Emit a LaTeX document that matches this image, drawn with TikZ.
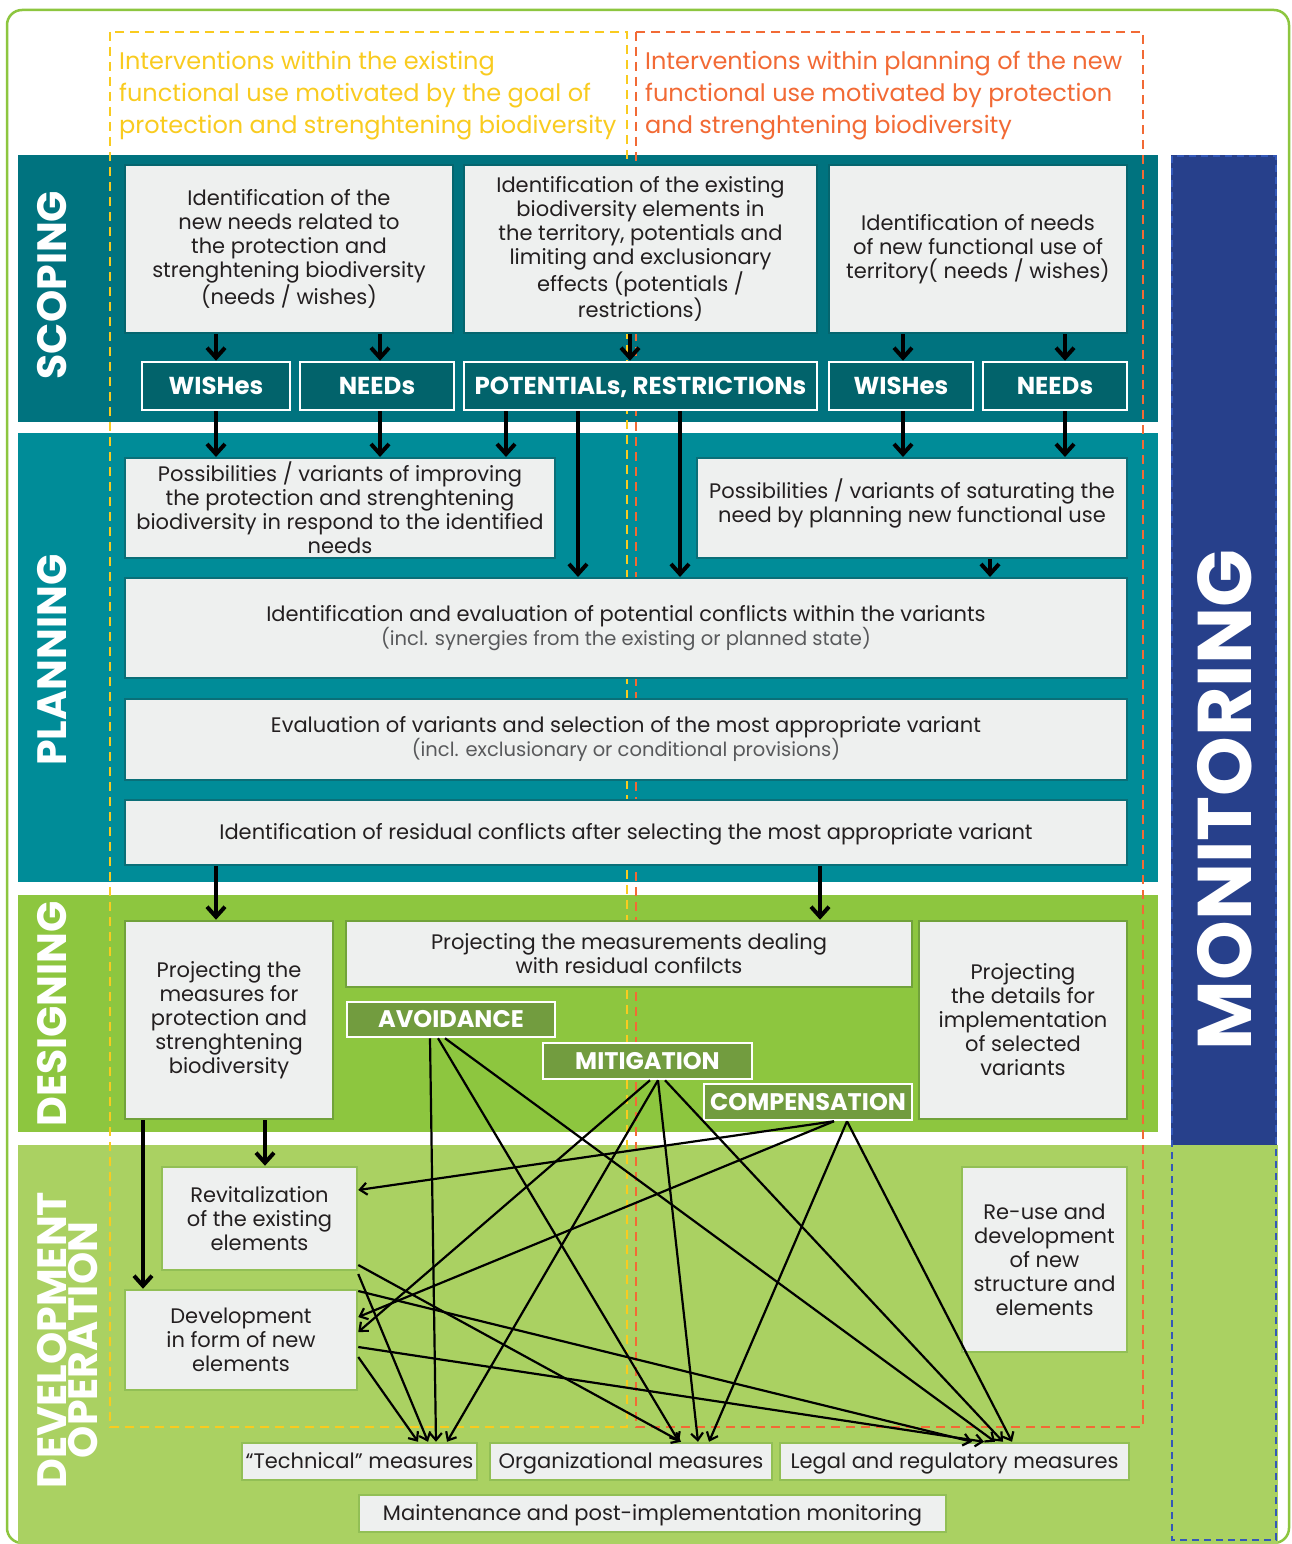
\documentclass[tikz,border=0pt]{standalone}
\usepackage{fontspec}
\setmainfont{Poppins}
\usetikzlibrary{arrows.meta}
\definecolor{scopeband}{HTML}{00737F}
\definecolor{planband}{HTML}{008C98}
\definecolor{desband}{HTML}{8DC63F}
\definecolor{devband}{HTML}{AAD162}
\definecolor{monblue}{HTML}{27408B}
\definecolor{boxgray}{HTML}{EEF0EF}
\definecolor{scopeedge}{HTML}{05656E}
\definecolor{planedge}{HTML}{0A6F78}
\definecolor{desedge}{HTML}{71A23A}
\definecolor{devedge}{HTML}{92BF55}
\definecolor{tagteal}{HTML}{02636B}
\definecolor{tagolive}{HTML}{729C3F}
\definecolor{yel}{HTML}{F9CB1F}
\definecolor{ora}{HTML}{F26A35}
\definecolor{dashblue}{HTML}{3358B8}
\definecolor{textdark}{HTML}{231F20}
\definecolor{subgray}{HTML}{58595B}
\definecolor{framegreen}{HTML}{8DC63F}
\newcommand{\subtxt}{\color{subgray}\fontsize{19.5}{24}\selectfont}
\begin{document}
\begin{tikzpicture}[x=1pt,y=-1pt,
  gbox/.style={fill=boxgray, inner sep=0pt, align=center, text=textdark,
    font=\fontsize{21}{24}\selectfont},
  scbox/.style={gbox, draw=scopeedge, line width=2pt},
  plbox/.style={gbox, draw=planedge, line width=2pt},
  dsbox/.style={gbox, draw=desedge, line width=2.5pt},
  dvbox/.style={gbox, draw=devedge, line width=2.5pt},
  oneline/.style={text height=16pt, text depth=1.5pt},
  tagS/.style={fill=tagteal, draw=white, line width=2.5pt, text=white, inner sep=0pt,
    font=\bfseries\fontsize{24.5}{26}\selectfont, text height=19pt, text depth=2pt},
  tagD/.style={fill=tagolive, draw=white, line width=2.5pt, text=white, inner sep=0pt,
    font=\bfseries\fontsize{24}{26}\selectfont, text height=18.5pt, text depth=2pt},
  phase/.style={text=white, rotate=90, align=center, inner sep=0pt,
    font=\bfseries\fontsize{41}{31}\selectfont},
  head/.style={align=left, inner sep=0pt, anchor=west, font=\fontsize{24}{32}\selectfont},
  bigarrow/.style={line width=4pt, -{Straight Barb[length=10pt,width=18pt]}},
  thinarrow/.style={line width=2.2pt, -{Straight Barb[length=7pt,width=12pt]}},
  ydash/.style={draw=yel, line width=2.5pt, dash pattern=on 9pt off 6pt},
  odash/.style={draw=ora, line width=2.5pt, dash pattern=on 9pt off 6pt},
  bdash/.style={draw=dashblue, line width=2pt, dash pattern=on 7pt off 5pt},
]
\useasboundingbox (0,0) rectangle (1291,1544);
\fill[white] (0,0) rectangle (1291,1544);
% outer frame
\draw[framegreen, line width=2.5pt, rounded corners=15pt] (7,10) rectangle (1289,1543);
% bands
\fill[scopeband] (18,155) rectangle (1158,422);
\fill[planband] (18,433) rectangle (1158,882);
\fill[desband] (18,895) rectangle (1158,1132);
\fill[monblue] (1171,155) rectangle (1277,1145);
\fill[devband] (18,1145) rectangle (1278,1544);
\draw[bdash] (1172,156) rectangle (1276,1540);
% dashed intervention frames
\draw[ydash] (110,32) rectangle (627,1427);
\draw[odash] (636,32) rectangle (1143,1427);
% headers
\node[head, text=yel] (hyel) at (119,96) {Interventions within the existing\\functional use motivated by the goal of\\protection and strenghtening biodiversity};
\node[head, text=ora] (hora) at (645,96) {Interventions within planning of the new\\functional use motivated by protection\\and strenghtening biodiversity};
% phase labels
\node[phase] (lscope) at (52,285) {SCOPING};
\node[phase] (lplan) at (52,660) {PLANNING};
\node[phase] (ldes) at (52,1014) {DESIGNING};
\node[phase] (ldev) at (68,1340) {DEVELOPMENT\\OPERATION};
\node[phase, font=\bfseries\fontsize{76}{80}\selectfont] (lmon) at (1225,800) {MONITORING};
% scoping
\node[scbox, minimum width=328, minimum height=168] (b1) at (289,249) {Identification of the\\new needs related to\\the protection and\\strenghtening biodiversity\\(needs / wishes)};
\node[scbox, minimum width=353, minimum height=168] (b2) at (640.5,249) {Identification of the existing\\biodiversity elements in\\the territory, potentials and\\limiting and exclusionary\\effects (potentials /\\restrictions)};
\node[scbox, minimum width=298, minimum height=168] (b3) at (978,249) {Identification of needs\\of new functional use of\\territory( needs / wishes)};
\node[tagS, minimum width=148, minimum height=48] (wish1) at (216,386) {WISHes};
\node[tagS, minimum width=154, minimum height=48] (need1) at (377,386) {NEEDs};
\node[tagS, minimum width=353, minimum height=48] (pot) at (640.5,386) {POTENTIALs, RESTRICTIONs};
\node[tagS, minimum width=144, minimum height=48] (wish2) at (901,386) {WISHes};
\node[tagS, minimum width=144, minimum height=48] (need2) at (1055,386) {NEEDs};
% planning
\node[plbox, minimum width=430, minimum height=100] (p1) at (340,508) {Possibilities / variants of improving\\the protection and strenghtening\\biodiversity in respond to the identified\\needs};
\node[plbox, minimum width=430, minimum height=100] (p2) at (912,508) {Possibilities / variants of saturating the\\need by planning new functional use\\[-10pt]\mbox{}};
\node[plbox, minimum width=1002, minimum height=100] (conf) at (626,628) {Identification and evaluation of potential conflicts within the variants\\{\subtxt (incl. synergies from the existing or planned state)}};
\node[plbox, minimum width=1002, minimum height=81] (eval) at (626,739.5) {Evaluation of variants and selection of the most appropriate variant\\{\subtxt (incl. exclusionary or conditional provisions)}};
\node[plbox, oneline, minimum width=1002, minimum height=65] (resid) at (626,832.5) {Identification of residual conflicts after selecting the most appropriate variant};
% designing
\node[dsbox, minimum width=208, minimum height=198] (d1) at (229,1020) {Projecting the\\measures for\\protection and\\strenghtening\\biodiversity};
\node[dsbox, minimum width=566, minimum height=66] (d2) at (629,954) {Projecting the measurements dealing\\with residual confilcts};
\node[dsbox, minimum width=208, minimum height=198] (d3) at (1023,1020) {Projecting\\the details for\\implementation\\of selected\\variants};
\node[tagD, minimum width=208, minimum height=35] (avoid) at (451,1019.5) {AVOIDANCE};
\node[tagD, minimum width=209, minimum height=36] (mitig) at (647.5,1061) {MITIGATION};
\node[tagD, minimum width=208, minimum height=36] (comp) at (808,1102) {COMPENSATION};
% development
\node[dvbox, minimum width=195, minimum height=103] (rev) at (259.5,1218.5) {Revitalization\\of the existing\\elements};
\node[dvbox, minimum width=232, minimum height=100] (devn) at (241,1340) {Development\\in form of new\\elements};
\node[dvbox, minimum width=165, minimum height=185] (reuse) at (1044.5,1259.5) {Re-use and\\development\\of new\\structure and\\elements};
\node[dvbox, oneline, minimum width=235, minimum height=37] (tech) at (359.5,1461.5) {“Technical” measures};
\node[dvbox, oneline, minimum width=282, minimum height=37] (org) at (631,1461.5) {Organizational measures};
\node[dvbox, oneline, minimum width=349, minimum height=37] (legal) at (954.5,1461.5) {Legal and regulatory measures};
\node[dvbox, oneline, minimum width=587, minimum height=37] (maint) at (652.5,1513.5) {Maintenance and post-implementation monitoring};
% big arrows scoping
\draw[bigarrow] (216,0 |- b1.south) -- (216,0 |- wish1.north);
\draw[bigarrow] (380,0 |- b1.south) -- (380,0 |- need1.north);
\draw[bigarrow] (630,0 |- b2.south) -- (630,0 |- pot.north);
\draw[bigarrow] (903,0 |- b3.south) -- (903,0 |- wish2.north);
\draw[bigarrow] (1065,0 |- b3.south) -- (1065,0 |- need2.north);
% scoping -> planning
\draw[bigarrow] (216,0 |- wish1.south) -- (216,0 |- p1.north);
\draw[bigarrow] (380,0 |- need1.south) -- (380,0 |- p1.north);
\draw[bigarrow] (506,0 |- pot.south) -- (506,0 |- p1.north);
\draw[bigarrow] (578,0 |- pot.south) -- (578,0 |- conf.north);
\draw[bigarrow] (680,0 |- pot.south) -- (680,0 |- conf.north);
\draw[bigarrow] (903,0 |- wish2.south) -- (903,0 |- p2.north);
\draw[bigarrow] (1065,0 |- need2.south) -- (1065,0 |- p2.north);
\draw[bigarrow] (990,0 |- p2.south) -- (990,0 |- conf.north);
% planning -> designing
\draw[bigarrow] (216,0 |- resid.south) -- (216,0 |- d1.north);
\draw[bigarrow] (820,0 |- resid.south) -- (820,0 |- d2.north);
% designing -> development
\draw[bigarrow] (143,0 |- d1.south) -- (143,0 |- devn.north);
\draw[bigarrow] (265,0 |- d1.south) -- (265,0 |- rev.north);
% thin arrows
\draw[thinarrow] (430,0 |- avoid.south) -- (436,0 |- tech.north);
\draw[thinarrow] (438,0 |- avoid.south) -- (679,0 |- org.north);
\draw[thinarrow] (445,0 |- avoid.south) -- (995,0 |- legal.north);
\draw[thinarrow] (650,0 |- mitig.south) -- (devn.east |- 0,1332);
\draw[thinarrow] (658,0 |- mitig.south) -- (447,0 |- tech.north);
\draw[thinarrow] (658,0 |- mitig.south) -- (698,0 |- org.north);
\draw[thinarrow] (665,0 |- mitig.south) -- (1003,0 |- legal.north);
\draw[thinarrow] (834,0 |- comp.south) -- (rev.east |- 0,1190);
\draw[thinarrow] (834,0 |- comp.south) -- (devn.east |- 0,1317);
\draw[thinarrow] (847,0 |- comp.south) -- (709,0 |- org.north);
\draw[thinarrow] (847,0 |- comp.south) -- (1012,0 |- legal.north);
\draw[thinarrow] (rev.east |- 0,1265) -- (681,0 |- org.north);
\draw[thinarrow] (rev.east |- 0,1274) -- (428,0 |- tech.north);
\draw[thinarrow] (devn.east |- 0,1291) -- (972,0 |- legal.north);
\draw[thinarrow] (devn.east |- 0,1347) -- (984,0 |- legal.north);
\draw[thinarrow] (devn.east |- 0,1357) -- (418,0 |- tech.north);
\end{tikzpicture}
\end{document}
